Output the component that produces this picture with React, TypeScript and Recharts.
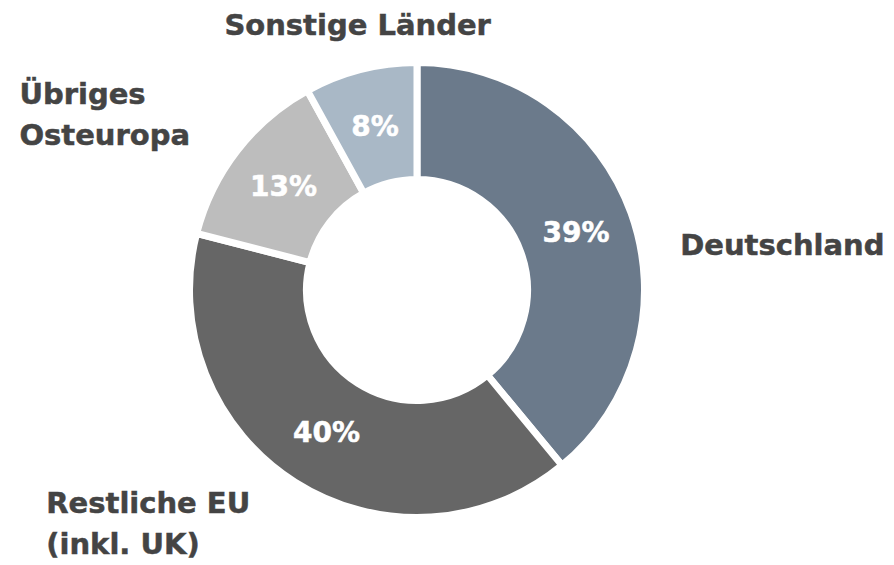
import { PieChart, Pie, Cell } from "recharts";

const regions = ["Deutschland", "Restliche EU (inkl. UK)", "Übriges Osteuropa", "Sonstige Länder"];
const shares = [39, 40, 13, 8];
const colors = ["#6b7a8b", "#666666", "#bdbdbd", "#a9b8c6"];

// label lines and where each outer label sits, relative to the pie centre (in outer radius units)
const labelLines = [["Deutschland"], ["Restliche EU", "(inkl. UK)"], ["Übriges", "Osteuropa"], ["Sonstige Länder"]];
const labelPlace = [
  { dx: 1.175, dy: -0.158, anchor: "start" },
  { dx: -1.655, dy: 0.995, anchor: "start" },
  { dx: -1.775, dy: -0.83, anchor: "start" },
  { dx: -0.265, dy: -1.14, anchor: "middle" },
];

const data = regions.map((name, i) => ({ name, value: shares[i] }));

const FONT = "'DejaVu Sans', sans-serif";
const RAD = Math.PI / 180;

const renderLabel = (props: any) => {
  const { cx, cy, midAngle, innerRadius, outerRadius, index, value } = props;
  const visR = outerRadius - 3.5;
  const visIn = innerRadius + 3.5;
  const r = (visR + visIn) / 2;
  const px = cx + r * Math.cos(-midAngle * RAD);
  const py = cy + r * Math.sin(-midAngle * RAD);
  const place = labelPlace[index];
  const lines = labelLines[index];
  const lx = cx + place.dx * visR;
  const ly = cy + place.dy * visR;
  return (
    <g>
      <text
        x={px}
        y={py}
        fill="#ffffff"
        stroke="#ffffff"
        strokeWidth={0.5}
        textAnchor="middle"
        dominantBaseline="central"
        fontFamily={FONT}
        fontWeight={700}
        fontSize={28}
      >
        {`${value}%`}
      </text>
      <text
        x={lx}
        y={ly}
        fill="#444444"
        stroke="#444444"
        strokeWidth={0.5}
        textAnchor={place.anchor}
        fontFamily={FONT}
        fontWeight={700}
        fontSize={29}
      >
        {lines.map((l, k) => (
          <tspan key={k} x={lx} dy={k === 0 ? 0 : 41}>
            {l}
          </tspan>
        ))}
      </text>
    </g>
  );
};

export default function App() {
  return (
    <div style={{ position: "absolute", left: 0, top: 0, width: 894, height: 565, background: "#fff" }}>
      <PieChart width={894} height={565}>
        <Pie
          data={data}
          dataKey="value"
          nameKey="name"
          cx={412}
          cy={285}
          innerRadius={110.5}
          outerRadius={227.5}
          startAngle={90}
          endAngle={-270}
          stroke="#ffffff"
          strokeWidth={7}
          label={renderLabel}
          labelLine={false}
          isAnimationActive={false}
        >
          {data.map((d, i) => (
            <Cell key={d.name} fill={colors[i]} />
          ))}
        </Pie>
      </PieChart>
    </div>
  );
}
